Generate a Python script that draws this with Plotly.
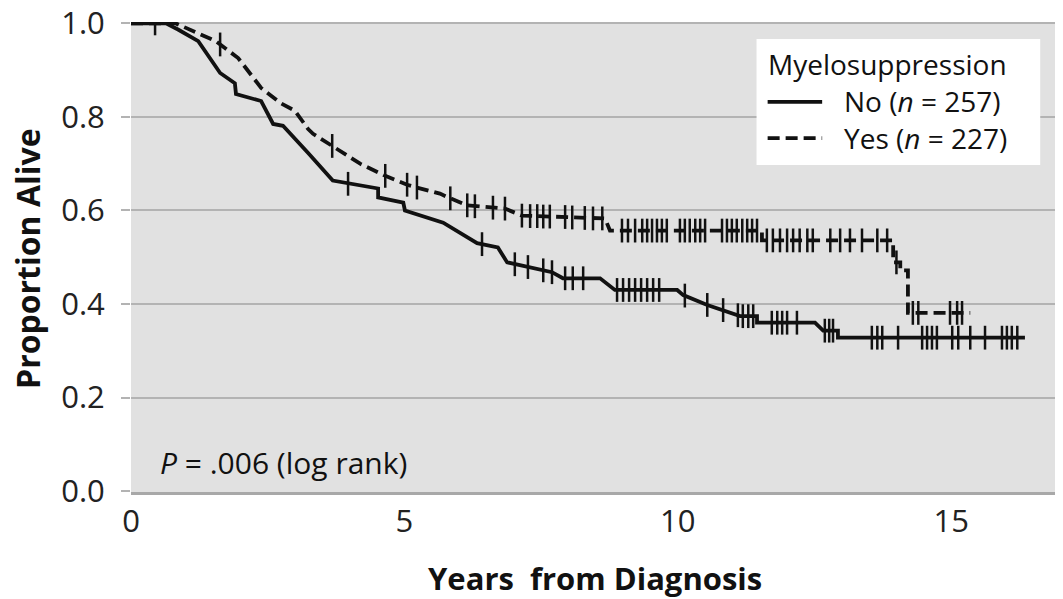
import plotly.graph_objects as go

# ---- Kaplan-Meier curves (years, proportion alive) ----
no_t = [0, 0.64, 0.86, 1.23, 1.63, 1.90, 1.92, 2.38, 2.60, 2.78, 3.24, 3.69, 4.52, 4.52,
        4.98, 5.01, 5.71, 6.33, 6.71, 6.88, 7.70, 7.90, 8.58, 8.85, 9.99, 10.10, 10.54,
        10.83, 11.14, 11.45, 11.45, 12.51, 12.66, 12.93, 12.93, 16.35]
no_s = [1.0, 1.0, 0.987, 0.962, 0.894, 0.872, 0.849, 0.834, 0.785, 0.781, 0.723, 0.664,
        0.647, 0.628, 0.617, 0.600, 0.574, 0.530, 0.521, 0.489, 0.468, 0.455, 0.455, 0.430,
        0.430, 0.419, 0.398, 0.387, 0.374, 0.374, 0.360, 0.360, 0.343, 0.343, 0.328, 0.328]

no_cens_t = [0.44, 3.97, 6.42, 7.02, 7.26, 7.54, 7.70, 7.94, 8.08, 8.27, 8.89, 9.00, 9.11,
             9.22, 9.33, 9.44, 9.55, 9.66, 10.13, 10.54, 10.83, 11.10, 11.19, 11.29, 11.38,
             11.72, 11.82, 11.91, 12.00, 12.18, 12.69, 12.77, 12.84, 13.55, 13.65, 13.74,
             14.03, 14.47, 14.56, 14.65, 14.74, 15.02, 15.13, 15.35, 15.62, 15.93, 16.02,
             16.11, 16.21]
no_cens_s = [1.0, 0.657, 0.528, 0.485, 0.479, 0.472, 0.468, 0.455, 0.455, 0.455, 0.430,
             0.430, 0.430, 0.430, 0.430, 0.430, 0.430, 0.430, 0.418, 0.398, 0.387, 0.376,
             0.374, 0.374, 0.374, 0.360, 0.360, 0.360, 0.360, 0.360, 0.343, 0.343, 0.343,
             0.328, 0.328, 0.328, 0.328, 0.328, 0.328, 0.328, 0.328, 0.328, 0.328, 0.328,
             0.328, 0.328, 0.328, 0.328, 0.328]

yes_t = [0, 0.82, 1.55, 1.96, 2.38, 2.73, 3.00, 3.24, 3.33, 3.68, 4.19, 4.65, 5.05, 5.23,
         5.65, 5.84, 6.15, 6.84, 7.15, 8.67, 8.76, 11.54, 11.54, 13.94, 13.94, 14.07, 14.07,
         14.21, 14.21, 15.35]
yes_s = [1.0, 1.0, 0.962, 0.926, 0.862, 0.830, 0.813, 0.774, 0.764, 0.738, 0.700, 0.674,
         0.655, 0.649, 0.636, 0.626, 0.611, 0.604, 0.589, 0.583, 0.557, 0.557, 0.536, 0.536,
         0.489, 0.489, 0.472, 0.472, 0.381, 0.381]

yes_cens_t = [1.63, 3.68, 4.65, 5.05, 5.23, 5.84, 6.15, 6.29, 6.62, 6.84, 7.15, 7.30, 7.43,
              7.54, 7.66, 7.94, 8.07, 8.30, 8.45, 8.62, 8.98, 9.09, 9.22, 9.35, 9.44, 9.53,
              9.62, 9.71, 9.80, 10.04, 10.13, 10.22, 10.32, 10.41, 10.50, 10.81, 10.90,
              10.99, 11.08, 11.18, 11.27, 11.36, 11.45, 11.63, 11.74, 11.87, 12.00, 12.11,
              12.23, 12.37, 12.47, 12.79, 12.97, 13.15, 13.37, 13.65, 13.83, 14.00, 14.30,
              14.40, 14.98, 15.11, 15.20]
yes_cens_s = [0.955, 0.738, 0.674, 0.655, 0.649, 0.626, 0.611, 0.609, 0.606, 0.604, 0.589,
              0.588, 0.588, 0.587, 0.587, 0.586, 0.585, 0.584, 0.583, 0.583] + \
             [0.557] * 23 + [0.536] * 14 + [0.489, 0.381, 0.381, 0.381, 0.381, 0.381]

x_ticks = [0, 5, 10, 15]
y_ticks = [0.0, 0.2, 0.4, 0.6, 0.8, 1.0]
y_tick_text = ["0.0", "0.2", "0.4", "0.6", "0.8", "1.0"]

legend_title = "Myelosuppression"
legend_no = "No (<i>n</i> = 257)"
legend_yes = "Yes (<i>n</i> = 227)"
p_text = "<i>P</i> = .006 (log rank)"

FONT = "Open Sans"
INK = "#111111"
DASH = "12px,6px"
censor_marker = dict(symbol="line-ns-open", size=17, color=INK, line=dict(width=2.5, color=INK))

fig = go.Figure()
fig.add_trace(go.Scatter(x=yes_t, y=yes_s, mode="lines", name="Yes",
                         line=dict(color=INK, width=3.8, dash=DASH), showlegend=False))
fig.add_trace(go.Scatter(x=yes_cens_t, y=yes_cens_s, mode="markers", name="Yes censored",
                         marker=censor_marker, showlegend=False))
fig.add_trace(go.Scatter(x=no_t, y=no_s, mode="lines", name="No",
                         line=dict(color=INK, width=3.8), showlegend=False))
fig.add_trace(go.Scatter(x=no_cens_t, y=no_cens_s, mode="markers", name="No censored",
                         marker=censor_marker, showlegend=False))

# manual legend (paper coordinates)
fig.add_shape(type="rect", xref="paper", yref="paper", x0=0.677, x1=0.984, y0=0.696, y1=0.964,
              fillcolor="white", line=dict(width=0), layer="above")
fig.add_shape(type="line", xref="paper", yref="paper", x0=0.689, x1=0.748, y0=0.830, y1=0.830,
              line=dict(color=INK, width=3.8), layer="above")
fig.add_shape(type="line", xref="paper", yref="paper", x0=0.689, x1=0.748, y0=0.753, y1=0.753,
              line=dict(color=INK, width=3.8, dash=DASH), layer="above")

ann_font = dict(family=FONT, size=28, color=INK)
fig.add_annotation(xref="paper", yref="paper", x=0.687, y=0.911, xanchor="left", yanchor="middle",
                   text=legend_title, showarrow=False, font=ann_font)
fig.add_annotation(xref="paper", yref="paper", x=0.769, y=0.832, xanchor="left", yanchor="middle",
                   text=legend_no, showarrow=False, font=ann_font)
fig.add_annotation(xref="paper", yref="paper", x=0.769, y=0.753, xanchor="left", yanchor="middle",
                   text=legend_yes, showarrow=False, font=ann_font)
fig.add_annotation(xref="paper", yref="paper", x=0.029, y=0.062, xanchor="left", yanchor="middle",
                   text=p_text, showarrow=False, font=dict(family=FONT, size=30, color=INK))

# axis titles
title_font = dict(family=FONT, size=31, color=INK)
fig.add_annotation(xref="paper", yref="paper", x=0.502, y=-0.183, xanchor="center", yanchor="middle",
                   text="<b>Years  from Diagnosis</b>", showarrow=False, font=title_font)
fig.add_annotation(xref="paper", yref="paper", x=-0.1115, y=0.498, xanchor="center", yanchor="middle",
                   text="<b>Proportion Alive</b>", textangle=-90, showarrow=False,
                   font=dict(family=FONT, size=32, color=INK))

fig.update_layout(
    width=1063, height=599,
    margin=dict(l=131, r=8, t=22, b=107, autoexpand=False),
    paper_bgcolor="white", plot_bgcolor="#e1e1e1",
    font=dict(family=FONT, color=INK),
    xaxis=dict(range=[0, 16.9], tickvals=x_ticks, ticktext=[str(v) for v in x_ticks],
               showgrid=False, zeroline=False, showline=True, linecolor="#a8a8a8", linewidth=3,
               ticks="", automargin=False, tickfont=dict(family=FONT, size=31, color="#222")),
    yaxis=dict(range=[-0.002, 1.003], tickvals=y_ticks, ticktext=y_tick_text,
               showgrid=True, gridcolor="#b3b3b3", gridwidth=2, zeroline=False, showline=False,
               ticks="outside", ticklen=9, tickwidth=2, tickcolor="#b3b3b3", automargin=False,
               ticklabelstandoff=10, tickfont=dict(family=FONT, size=31, color="#222")),
)

fig.write_html("out.html")
